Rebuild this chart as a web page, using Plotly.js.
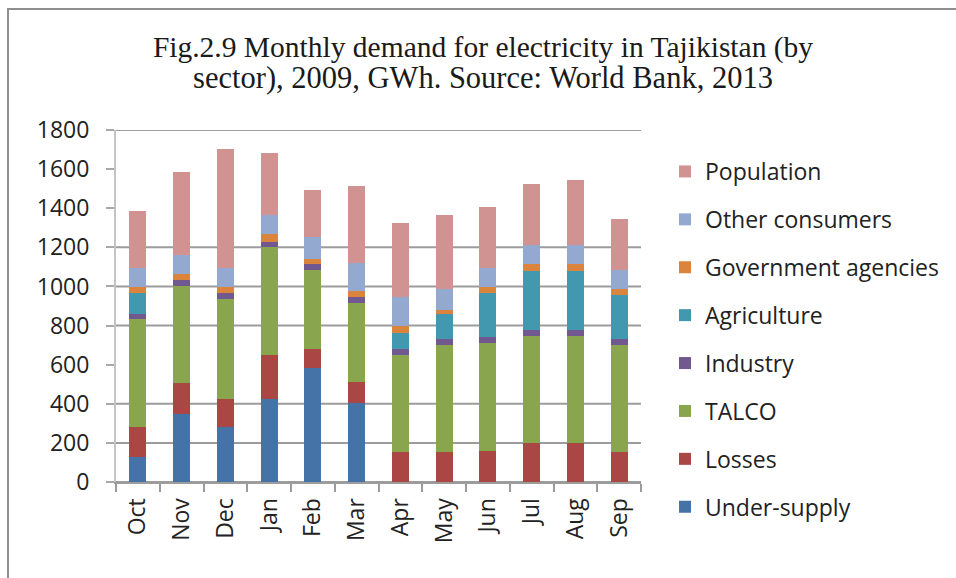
<!DOCTYPE html>
<html>
<head>
<meta charset="utf-8">
<script src="https://cdn.plot.ly/plotly-3.0.1.min.js"></script>
<style>
  html, body { margin: 0; padding: 0; background: #ffffff; overflow: hidden; }
  #chart { position: absolute; left: 0; top: 0; width: 956px; height: 578px; }
  #frame { position: absolute; left: 7px; top: 8px; width: 1200px; height: 1200px;
           border-left: 2px solid #8e8e8e; border-top: 2px solid #8e8e8e; pointer-events: none; }
</style>
</head>
<body>
<div id="chart"></div>
<div id="frame"></div>
<script>
const months = ['Oct','Nov','Dec','Jan','Feb','Mar','Apr','May','Jun','Jul','Aug','Sep'];
const underSupply  = [130, 346, 280, 426, 584, 406,   0,   0,   0,   0,   0,   0];
const losses       = [150, 159, 146, 225,  96, 107, 152, 152, 160, 201, 201, 152];
const talco        = [555, 499, 510, 549, 404, 404, 499, 547, 549, 547, 547, 547];
const industry     = [ 22,  29,  29,  29,  31,  29,  29,  32,  31,  29,  29,  32];
const agriculture  = [108,   0,   0,   0,   0,   0,  80, 126, 225, 304, 304, 224];
const government   = [ 30,  31,  30,  39,  27,  29,  39,  21,  30,  32,  32,  30];
const otherCons    = [ 98,  97,  98,  97, 109, 146, 145, 107,  98,  97,  97,  98];
const population   = [294, 423, 608, 316, 242, 393, 382, 380, 312, 314, 333, 264];

const seriesNames  = ['Under-supply','Losses','TALCO','Industry','Agriculture','Government agencies','Other consumers','Population'];
const seriesValues = [underSupply, losses, talco, industry, agriculture, government, otherCons, population];
const seriesColors = ['#4572A7','#AA4643','#89A54E','#71588F','#4198AF','#DB843D','#93A9CF','#D19392'];

const gridValues = [0, 200, 400, 800, 1000, 1200, 1800];

const traces = seriesNames.map((name, i) => ({
  type: 'bar',
  name: name,
  x: months,
  y: seriesValues[i],
  legendgroup: 'g' + i,
  legendrank: seriesNames.length - i,
  marker: { color: seriesColors[i], line: { width: 0 } },
  hoverinfo: 'x+y+name'
}));

const shapes = gridValues.map(v => ({
  type: 'line', xref: 'paper', yref: 'y', x0: 0, x1: 1, y0: v, y1: v,
  layer: 'below', line: { color: '#9c9c9c', width: 2 }
}));

const tickFont = { family: 'Open Sans, Arial, sans-serif', size: 23, color: '#222222' };

const layout = {
  width: 956, height: 578,
  paper_bgcolor: '#ffffff', plot_bgcolor: '#ffffff',
  margin: { l: 116, r: 315, t: 130, b: 96 },
  barmode: 'stack',
  bargap: 0.61,
  title: {
    text: '<span style="font-size:29.5px">Fig.2.9 Monthly demand for electricity in Tajikistan (by</span><br><span style="font-size:30.5px">sector), 2009, GWh. Source: World Bank, 2013</span>',
    font: { family: 'Liberation Serif, Times New Roman, serif', size: 24, color: '#1a1a1a' },
    x: 483 / 956, xref: 'container', xanchor: 'center',
    y: 1 - 57 / 578, yref: 'container', yanchor: 'top'
  },
  xaxis: {
    type: 'category',
    tickson: 'boundaries',
    ticks: 'outside', ticklen: 8, tickwidth: 2, tickcolor: '#9c9c9c',
    showline: true, linecolor: '#9c9c9c', linewidth: 2,
    showgrid: false, zeroline: false,
    tickangle: -90,
    tickfont: tickFont,
    ticklabelstandoff: 5
  },
  yaxis: {
    range: [0, 1800], dtick: 200, tick0: 0,
    ticks: 'outside', ticklen: 8, tickwidth: 2, tickcolor: '#a8a8a8',
    showline: true, linecolor: '#c4c4c4', linewidth: 2,
    showgrid: false, zeroline: false,
    tickfont: tickFont,
    ticklabelstandoff: 12
  },
  legend: {
    x: 665 / 956, xref: 'container', xanchor: 'left',
    y: 1 - 150 / 578, yref: 'container', yanchor: 'top',
    traceorder: 'grouped',
    tracegroupgap: 15,
    maxheight: 1,
    font: { family: 'Open Sans, Arial, sans-serif', size: 23, color: '#222222' },
    bgcolor: 'rgba(0,0,0,0)', borderwidth: 0
  },
  shapes: shapes,
  showlegend: true
};

Plotly.newPlot('chart', traces, layout, { displayModeBar: false, staticPlot: true });
</script>
</body>
</html>
